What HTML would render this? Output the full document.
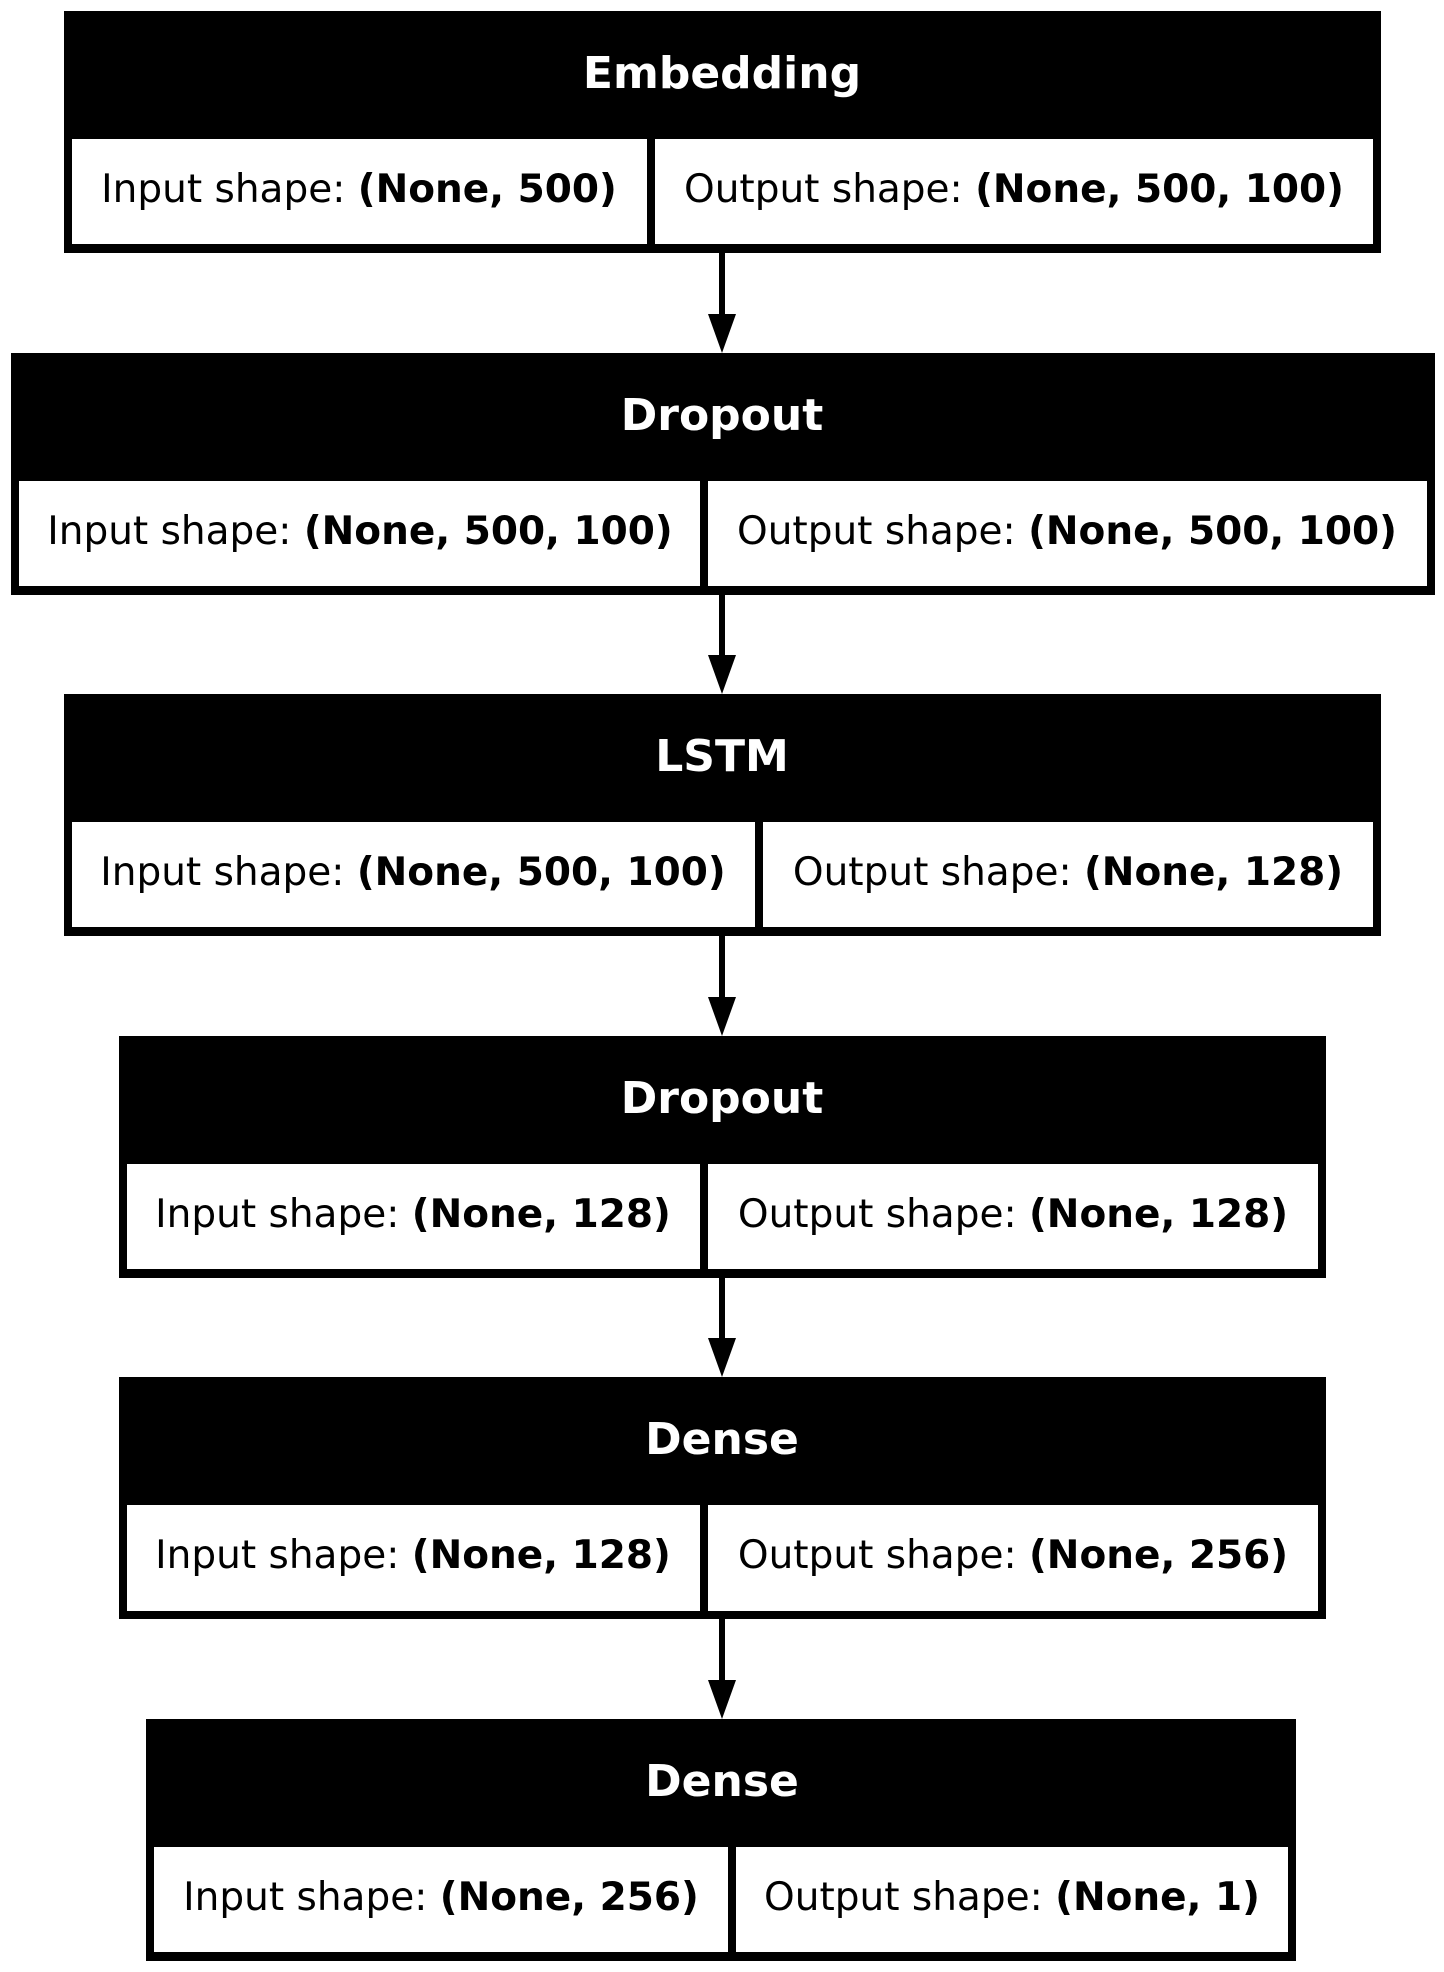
<!DOCTYPE html>
<html><head><meta charset="utf-8"><style>
html,body{margin:0;padding:0;background:#fff;}
svg{display:block;}
text{font-family:"DejaVu Sans","Liberation Sans",sans-serif;}
.t{font-size:44px;font-weight:bold;fill:#fff;}
.c{font-size:39px;fill:#000;}
.b{font-weight:bold;}
</style></head><body>
<svg width="1444" height="1972" viewBox="0 0 1444 1972" xmlns="http://www.w3.org/2000/svg">
<rect width="1444" height="1972" fill="#fff"/>
<g>
<rect x="64" y="11" width="1317" height="242" fill="#000"/>
<rect x="72" y="139" width="575" height="105" fill="#fff"/>
<rect x="655" y="139" width="718" height="105" fill="#fff"/>
<text class="t" x="722" y="88" text-anchor="middle">Embedding</text>
<text class="c" x="359" y="202" text-anchor="middle">Input shape: <tspan class="b">(None, 500)</tspan></text>
<text class="c" x="1014" y="202" text-anchor="middle">Output shape: <tspan class="b">(None, 500, 100)</tspan></text>
</g>
<g>
<rect x="11" y="353" width="1424" height="242" fill="#000"/>
<rect x="19" y="481" width="681" height="105" fill="#fff"/>
<rect x="708" y="481" width="719" height="105" fill="#fff"/>
<text class="t" x="722" y="430" text-anchor="middle">Dropout</text>
<text class="c" x="360" y="544" text-anchor="middle">Input shape: <tspan class="b">(None, 500, 100)</tspan></text>
<text class="c" x="1067" y="544" text-anchor="middle">Output shape: <tspan class="b">(None, 500, 100)</tspan></text>
</g>
<g>
<rect x="64" y="694" width="1317" height="242" fill="#000"/>
<rect x="72" y="822" width="683" height="105" fill="#fff"/>
<rect x="763" y="822" width="610" height="105" fill="#fff"/>
<text class="t" x="722" y="771" text-anchor="middle">LSTM</text>
<text class="c" x="413" y="885" text-anchor="middle">Input shape: <tspan class="b">(None, 500, 100)</tspan></text>
<text class="c" x="1068" y="885" text-anchor="middle">Output shape: <tspan class="b">(None, 128)</tspan></text>
</g>
<g>
<rect x="119" y="1036" width="1207" height="242" fill="#000"/>
<rect x="127" y="1164" width="573" height="105" fill="#fff"/>
<rect x="708" y="1164" width="610" height="105" fill="#fff"/>
<text class="t" x="722" y="1113" text-anchor="middle">Dropout</text>
<text class="c" x="413" y="1227" text-anchor="middle">Input shape: <tspan class="b">(None, 128)</tspan></text>
<text class="c" x="1013" y="1227" text-anchor="middle">Output shape: <tspan class="b">(None, 128)</tspan></text>
</g>
<g>
<rect x="119" y="1377" width="1207" height="242" fill="#000"/>
<rect x="127" y="1505" width="573" height="106" fill="#fff"/>
<rect x="708" y="1505" width="610" height="106" fill="#fff"/>
<text class="t" x="722" y="1454" text-anchor="middle">Dense</text>
<text class="c" x="413" y="1568" text-anchor="middle">Input shape: <tspan class="b">(None, 128)</tspan></text>
<text class="c" x="1013" y="1568" text-anchor="middle">Output shape: <tspan class="b">(None, 256)</tspan></text>
</g>
<g>
<rect x="146" y="1719" width="1150" height="242" fill="#000"/>
<rect x="154" y="1847" width="574" height="105" fill="#fff"/>
<rect x="736" y="1847" width="552" height="105" fill="#fff"/>
<text class="t" x="722" y="1796" text-anchor="middle">Dense</text>
<text class="c" x="441" y="1910" text-anchor="middle">Input shape: <tspan class="b">(None, 256)</tspan></text>
<text class="c" x="1012" y="1910" text-anchor="middle">Output shape: <tspan class="b">(None, 1)</tspan></text>
</g>
<g fill="#000">
<rect x="719" y="253" width="6" height="62"/><polygon points="708,314 736,314 722,353"/>
<rect x="719" y="595" width="6" height="61"/><polygon points="708,655 736,655 722,694"/>
<rect x="719" y="936" width="6" height="62"/><polygon points="708,997 736,997 722,1036"/>
<rect x="719" y="1278" width="6" height="61"/><polygon points="708,1338 736,1338 722,1377"/>
<rect x="719" y="1619" width="6" height="62"/><polygon points="708,1680 736,1680 722,1719"/>
</g>
</svg>
</body></html>
